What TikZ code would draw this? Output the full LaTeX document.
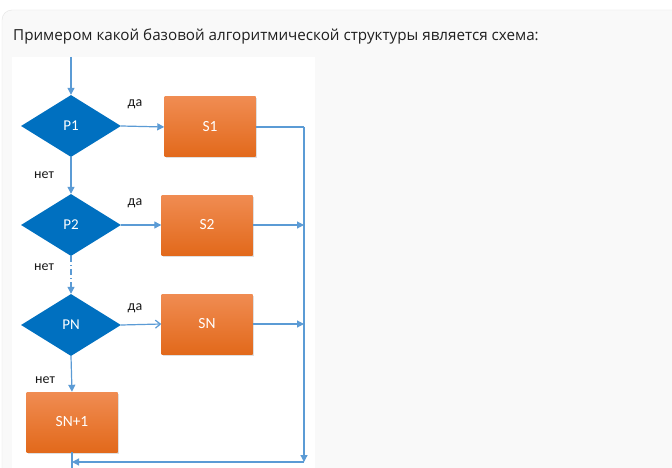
\documentclass[tikz,border=0pt]{standalone}
\usepackage{fontspec}
\setmainfont{Open Sans}
\newfontfamily\lbl{Carlito}
\usetikzlibrary{arrows.meta,shapes.geometric,shadows}
\definecolor{cardbg}{HTML}{F9F9F9}
\definecolor{cardline}{HTML}{E4E4E4}
\definecolor{dblue}{HTML}{0070C0}
\definecolor{lnblue}{HTML}{5B9BD5}
\definecolor{otop}{HTML}{F08C52}
\definecolor{obot}{HTML}{E2691B}
\tikzset{
  dec/.style={diamond, fill=dblue, draw=none, minimum width=100pt, minimum height=62pt, inner sep=0pt, aspect=1.6, text=white, font=\lbl\fontsize{15}{17}\selectfont},
  act/.style={rectangle, draw=none, minimum width=91pt, minimum height=60pt, inner sep=0pt, top color=otop, bottom color=obot, drop shadow={shadow xshift=1pt, shadow yshift=-1.5pt, opacity=0.25}, text=white, font=\lbl\fontsize{15.5}{17}\selectfont},
  conn/.style={draw=lnblue, line width=1.2pt},
  arr/.style={conn, -{Triangle[width=7pt,length=7pt]}},
  oarr/.style={conn, -{Straight Barb[width=8pt,length=5pt]}},
  lab/.style={font=\lbl\fontsize{14}{16}\selectfont, text=black!90, inner sep=0pt}
}
\begin{document}
\begin{tikzpicture}[x=1pt,y=-1pt]
\useasboundingbox (0,0) rectangle (672,468);
\fill[white] (0,0) rectangle (672,468);
\draw[cardline, fill=cardbg, rounded corners=10pt] (2,10) -- (700,10) -- (700,500) -- (2,500) -- cycle;
\node[anchor=base west, inner sep=0pt, font=\fontsize{15.2}{18}\selectfont, text=black!88] (q) at (13,41) {Примером какой базовой алгоритмической структуры является схема:};
\fill[white] (12,57) rectangle (315,468);

\node[dec] (p1) at (71,126) {P1};
\node[dec] (p2) at (71,225) {P2};
\node[dec] (pn) at (71,325) {PN};
\node[act] (s1) at (210,127) {S1};
\node[act] (s2) at (207,225) {S2};
\node[act] (sn) at (207,324) {SN};
\node[act] (sn1) at (72,422) {SN+1};

\coordinate (top) at (71,57);
\coordinate (r1) at (304,127);
\coordinate (r2) at (304,225);
\coordinate (r3) at (304,324);
\coordinate (rb) at (304,462);
\coordinate (lb) at (72,462);
\coordinate (bot) at (72,468);
\coordinate (mid) at (71,283);

\draw[arr] (top) -- (p1.north);
\draw[arr] (p1.east) -- (s1.west);
\draw[arr] (p1.south) -- (p2.north);
\draw[arr] (p2.east) -- (s2.west);
\draw[conn, dash pattern=on 6pt off 3pt on 1pt off 3pt] (p2.south) -- (mid);
\draw[arr] (mid) -- (pn.north);
\draw[oarr] (pn.east) -- (sn.west);
\draw[arr] (pn.south) -- (sn1.north);
\draw[conn] (s1.east) -- (r1);
\draw[arr] (r1) -- (rb);
\draw[arr] (s2.east) -- (r2);
\draw[arr] (sn.east) -- (r3);
\draw[arr] (rb) -- (lb);
\draw[conn] (sn1.south) -- (bot);

\node[lab] (d1) at (135,104) {да};
\node[lab] (d2) at (135,203) {да};
\node[lab] (d3) at (135,308) {да};
\node[lab] (n1) at (44,175) {нет};
\node[lab] (n2) at (44,267) {нет};
\node[lab] (n3) at (45,380) {нет};
\end{tikzpicture}
\end{document}
